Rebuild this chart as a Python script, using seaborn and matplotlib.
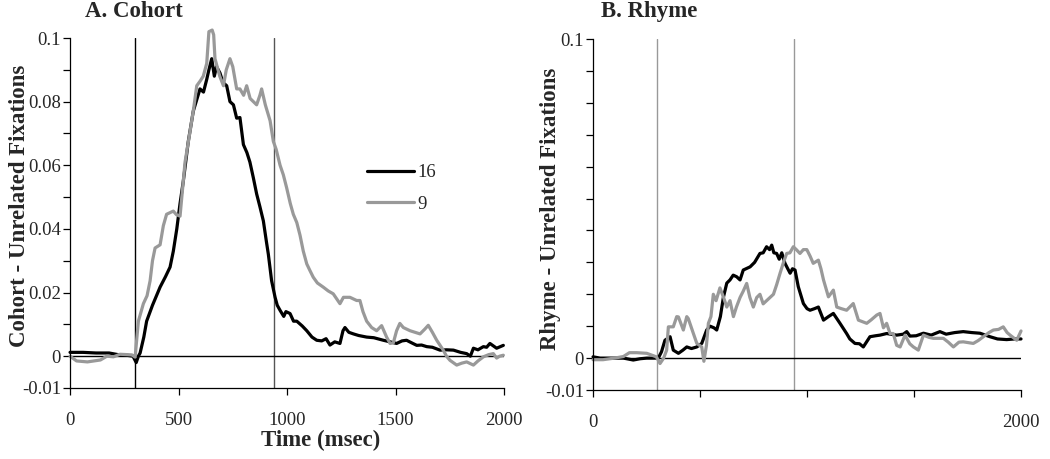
import pandas as pd
import matplotlib
matplotlib.use("Agg")
import matplotlib.pyplot as plt
import seaborn as sns
from matplotlib.lines import Line2D

# Cohort panel, group 16 (black)
COH16_T = [0, 60, 120, 180, 220, 260, 290, 305, 315, 323, 340, 353, 380, 415, 440, 461, 476, 492, 507,
           522, 545, 568, 599, 615, 630, 640, 653, 665, 675, 691, 705, 722, 737, 753, 768, 783, 799, 815,
           829, 845, 860, 875, 891, 905, 914, 929, 945, 955, 968, 985, 995, 1014, 1030, 1045, 1070, 1091,
           1115, 1137, 1160, 1180, 1198, 1220, 1244, 1258, 1267, 1285, 1306, 1330, 1367, 1400, 1444, 1475,
           1505, 1530, 1551, 1580, 1598, 1620, 1644, 1670, 1705, 1735, 1767, 1800, 1828, 1845, 1859, 1880,
           1905, 1920, 1935, 1966, 1997]
COH16_V = [0.0012, 0.0012, 0.0010, 0.0010, 0.0005, 0.0003, 0.0, -0.002, 0.0, 0.001, 0.006, 0.011, 0.016,
           0.0217, 0.025, 0.028, 0.033, 0.040, 0.048, 0.055, 0.0675, 0.077, 0.084, 0.083, 0.087, 0.090,
           0.0935, 0.088, 0.091, 0.089, 0.086, 0.085, 0.080, 0.079, 0.0748, 0.075, 0.0665, 0.064, 0.061,
           0.056, 0.051, 0.047, 0.0425, 0.036, 0.032, 0.0237, 0.0185, 0.016, 0.0144, 0.0125, 0.014, 0.0134,
           0.011, 0.011, 0.0095, 0.008, 0.006, 0.005, 0.0048, 0.0055, 0.0035, 0.0045, 0.004, 0.008, 0.009,
           0.0075, 0.007, 0.0065, 0.006, 0.0058, 0.005, 0.0045, 0.004, 0.0048, 0.005, 0.004, 0.0034, 0.0035,
           0.003, 0.0028, 0.0019, 0.002, 0.0019, 0.0012, 0.0008, 0.0, 0.0025, 0.002, 0.003, 0.0028, 0.004,
           0.0025, 0.0034]

# Cohort panel, group 9 (gray)
COH9_T = [0, 30, 80, 140, 170, 200, 230, 260, 285, 300, 315, 338, 355, 369, 380, 392, 415, 430, 445, 476,
          490, 507, 530, 553, 570, 584, 600, 614, 630, 640, 655, 662, 668, 690, 707, 720, 737, 750, 768,
          783, 800, 814, 830, 860, 875, 883, 900, 922, 937, 950, 968, 983, 998, 1015, 1029, 1045, 1060,
          1075, 1091, 1105, 1121, 1140, 1167, 1190, 1213, 1244, 1260, 1275, 1290, 1321, 1336, 1350, 1367,
          1390, 1413, 1436, 1459, 1475, 1490, 1505, 1520, 1536, 1567, 1590, 1613, 1635, 1651, 1670, 1690,
          1720, 1735, 1751, 1782, 1805, 1828, 1859, 1880, 1905, 1930, 1951, 1966, 1980, 1997]
COH9_V = [0.0, -0.0015, -0.0018, -0.0012, 0.0, -0.0002, 0.0006, 0.0005, 0.0004, -0.0003, 0.011, 0.0165,
          0.019, 0.0237, 0.030, 0.034, 0.035, 0.041, 0.0446, 0.0456, 0.0445, 0.044, 0.061, 0.0706, 0.078,
          0.085, 0.0865, 0.088, 0.092, 0.102, 0.1025, 0.101, 0.0935, 0.088, 0.085, 0.090, 0.0935, 0.091,
          0.084, 0.084, 0.082, 0.085, 0.081, 0.079, 0.082, 0.084, 0.079, 0.074, 0.0675, 0.065, 0.060, 0.057,
          0.053, 0.048, 0.0446, 0.042, 0.038, 0.033, 0.029, 0.027, 0.0248, 0.023, 0.0217, 0.0205, 0.0196,
          0.0165, 0.0185, 0.0185, 0.0185, 0.0175, 0.0175, 0.014, 0.011, 0.009, 0.008, 0.0096, 0.006, 0.004,
          0.0042, 0.008, 0.0103, 0.009, 0.008, 0.0075, 0.007, 0.0085, 0.0097, 0.0075, 0.005, 0.0019, 0.0,
          -0.0013, -0.0028, -0.0022, -0.0018, -0.0028, -0.0015, -0.0002, 0.0005, 0.0008, -0.0006, 0.0, 0.0003]

# Rhyme panel, group 16 (black)
RHY16_T = [0, 33, 80, 142, 188, 220, 251, 305, 320, 336, 360, 375, 399, 420, 438, 460, 485, 508, 531, 547,
           565, 578, 595, 609, 625, 640, 655, 671, 687, 702, 734, 755, 780, 795, 811, 825, 835, 845, 858,
           870, 882, 897, 910, 921, 932, 944, 959, 983, 1000, 1014, 1035, 1053, 1077, 1100, 1123, 1154,
           1185, 1200, 1224, 1245, 1263, 1294, 1320, 1341, 1372, 1419, 1450, 1466, 1481, 1510, 1544, 1580,
           1621, 1650, 1690, 1730, 1770, 1808, 1855, 1890, 1933, 1970, 2000]
RHY16_V = [0.0004, 0.0, 0.0, 0.0, -0.0006, -0.0002, 0.0, 0.0, 0.002, 0.0056, 0.0067, 0.0025, 0.0015,
           0.0025, 0.0035, 0.003, 0.0035, 0.0046, 0.0088, 0.010, 0.0095, 0.0088, 0.013, 0.019, 0.0235,
           0.0245, 0.026, 0.0255, 0.0245, 0.0276, 0.0286, 0.030, 0.0328, 0.033, 0.0349, 0.034, 0.0354,
           0.033, 0.0328, 0.031, 0.033, 0.0297, 0.028, 0.0266, 0.028, 0.0276, 0.0224, 0.0171, 0.0155, 0.015,
           0.0155, 0.016, 0.0119, 0.013, 0.014, 0.0109, 0.0077, 0.006, 0.0046, 0.0045, 0.0035, 0.0067, 0.007,
           0.0072, 0.0077, 0.0072, 0.0075, 0.0083, 0.0069, 0.007, 0.0078, 0.0072, 0.0083, 0.0075, 0.008,
           0.0083, 0.008, 0.0078, 0.0067, 0.006, 0.0058, 0.006, 0.006]

# Rhyme panel, group 9 (gray)
RHY9_T = [0, 47, 100, 142, 170, 204, 251, 296, 313, 330, 344, 352, 375, 391, 399, 422, 438, 445, 469, 485,
          508, 518, 530, 539, 551, 562, 575, 593, 610, 625, 640, 656, 670, 687, 702, 718, 733, 749, 765,
          780, 795, 811, 827, 843, 858, 874, 890, 905, 920, 936, 950, 967, 983, 999, 1014, 1029, 1053, 1065,
          1077, 1100, 1123, 1139, 1160, 1185, 1216, 1240, 1279, 1300, 1326, 1341, 1357, 1372, 1388, 1403,
          1419, 1435, 1458, 1480, 1497, 1520, 1544, 1570, 1590, 1637, 1660, 1684, 1710, 1730, 1777, 1800,
          1824, 1850, 1871, 1895, 1917, 1935, 1949, 1980, 2000]
RHY9_V = [-0.0005, -0.0005, 0.0, 0.0005, 0.0017, 0.0017, 0.0015, 0.0004, -0.0017, 0.0, 0.0025, 0.0098,
          0.0098, 0.013, 0.0129, 0.0088, 0.013, 0.0124, 0.0077, 0.0046, 0.0035, -0.001, 0.004, 0.0109, 0.013,
          0.020, 0.018, 0.022, 0.019, 0.016, 0.018, 0.013, 0.016, 0.019, 0.021, 0.0234, 0.019, 0.016, 0.019,
          0.020, 0.017, 0.018, 0.019, 0.020, 0.023, 0.0266, 0.030, 0.0328, 0.033, 0.0349, 0.034, 0.0328,
          0.034, 0.034, 0.032, 0.0297, 0.0307, 0.028, 0.0245, 0.0192, 0.0213, 0.016, 0.0155, 0.015, 0.0171,
          0.0119, 0.0109, 0.012, 0.0135, 0.014, 0.0095, 0.0109, 0.0077, 0.0077, 0.004, 0.0035, 0.0072,
          0.0045, 0.0035, 0.0025, 0.0072, 0.0065, 0.0062, 0.0062, 0.005, 0.0035, 0.005, 0.0051, 0.0046,
          0.0055, 0.0067, 0.008, 0.0088, 0.009, 0.0098, 0.008, 0.0072, 0.0056, 0.0085]

GROUPS = ["16", "9"]
MARKERS_T = [300, 940]
PALETA = {"16": "black", "9": "#999999"}

FONTE = "Liberation Serif"
TAM_TICKS = 13.5
TAM_ROTULO = 16.5


def montar(t16, v16, t9, v9):
    a = pd.DataFrame({"Time": t16, "Value": v16, "Group": "16"})
    b = pd.DataFrame({"Time": t9, "Value": v9, "Group": "9"})
    return pd.concat([a, b], ignore_index=True)


def desenhar(ax, df, cor_marcas):
    sns.lineplot(data=df, x="Time", y="Value", hue="Group", hue_order=GROUPS, palette=PALETA,
                 estimator=None, sort=False, linewidth=2.3, legend=False, ax=ax)
    for ln in ax.lines:
        ln.set_clip_on(False)
    for t, c in zip(MARKERS_T, cor_marcas):
        ax.plot([t, t], [-0.01, 0.1], color=c, lw=1, zorder=1)
    ax.axhline(0, color="black", lw=1, zorder=1)
    ax.set_xlim(0, 2000)
    ax.set_ylim(-0.01, 0.1)
    sns.despine(ax=ax)
    for s in ["left", "bottom"]:
        ax.spines[s].set_linewidth(0.9)
        ax.spines[s].set_color("black")
    ax.set_xticks([0, 500, 1000, 1500, 2000])
    ax.set_yticks([v / 100 for v in range(-1, 11)])
    ax.tick_params(axis="x", length=5, width=0.9, pad=12, labelsize=TAM_TICKS, color="black")
    ax.tick_params(axis="y", length=5, width=0.9, pad=1.5, labelsize=TAM_TICKS, color="black")


sns.set_theme(style="ticks")
plt.rcParams["font.family"] = [FONTE, "DejaVu Serif"]

fig = plt.figure(figsize=(10.5, 4.59), dpi=100)
ax1 = fig.add_axes([0.0667, 0.1547, 0.4133, 0.7625])
ax2 = fig.add_axes([0.5648, 0.1503, 0.4076, 0.7647])

desenhar(ax1, montar(COH16_T, COH16_V, COH9_T, COH9_V), ["black", "#555555"])
desenhar(ax2, montar(RHY16_T, RHY16_V, RHY9_T, RHY9_V), ["#999999", "#999999"])

rot_y1 = {0.1: "0.1", 0.08: "0.08", 0.06: "0.06", 0.04: "0.04", 0.02: "0.02", 0.0: "0", -0.01: "-0.01"}
rot_y2 = {0.1: "0.1", 0.0: "0", -0.01: "-0.01"}
ax1.set_yticklabels([rot_y1.get(round(v, 2), "") for v in ax1.get_yticks()])
ax2.set_yticklabels([rot_y2.get(round(v, 2), "") for v in ax2.get_yticks()])
ax1.set_xticklabels(["0", "500", "1000", "1500", "2000"])
ax2.set_xticklabels(["0", "", "", "", "2000"])

ax1.set_xlabel("Time (msec)", fontsize=TAM_ROTULO, fontweight="bold")
ax1.xaxis.set_label_coords(0.578, -0.12)
ax2.set_xlabel("")
ax1.set_ylabel("Cohort - Unrelated Fixations", fontsize=TAM_ROTULO, fontweight="bold")
ax1.yaxis.set_label_coords(-0.092, 0.52)
ax2.set_ylabel("Rhyme - Unrelated Fixations", fontsize=TAM_ROTULO, fontweight="bold")
ax2.yaxis.set_label_coords(-0.075, 0.516)

fig.text(85 / 1050, 1 - 1 / 459, "A. Cohort", fontsize=TAM_ROTULO, fontweight="bold", va="top", ha="left")
fig.text(601 / 1050, 1 - 1 / 459, "B. Rhyme", fontsize=TAM_ROTULO, fontweight="bold", va="top", ha="left")

alcas = [Line2D([0], [0], color=PALETA[g], lw=2.3) for g in GROUPS]
ax1.legend(alcas, GROUPS, loc="upper left", bbox_to_anchor=(0.684, 0.64), frameon=False,
           fontsize=TAM_TICKS, handlelength=2.5, handletextpad=0.2, labelspacing=0.78,
           borderpad=0, borderaxespad=0)

fig.savefig("out.png", dpi=100)
